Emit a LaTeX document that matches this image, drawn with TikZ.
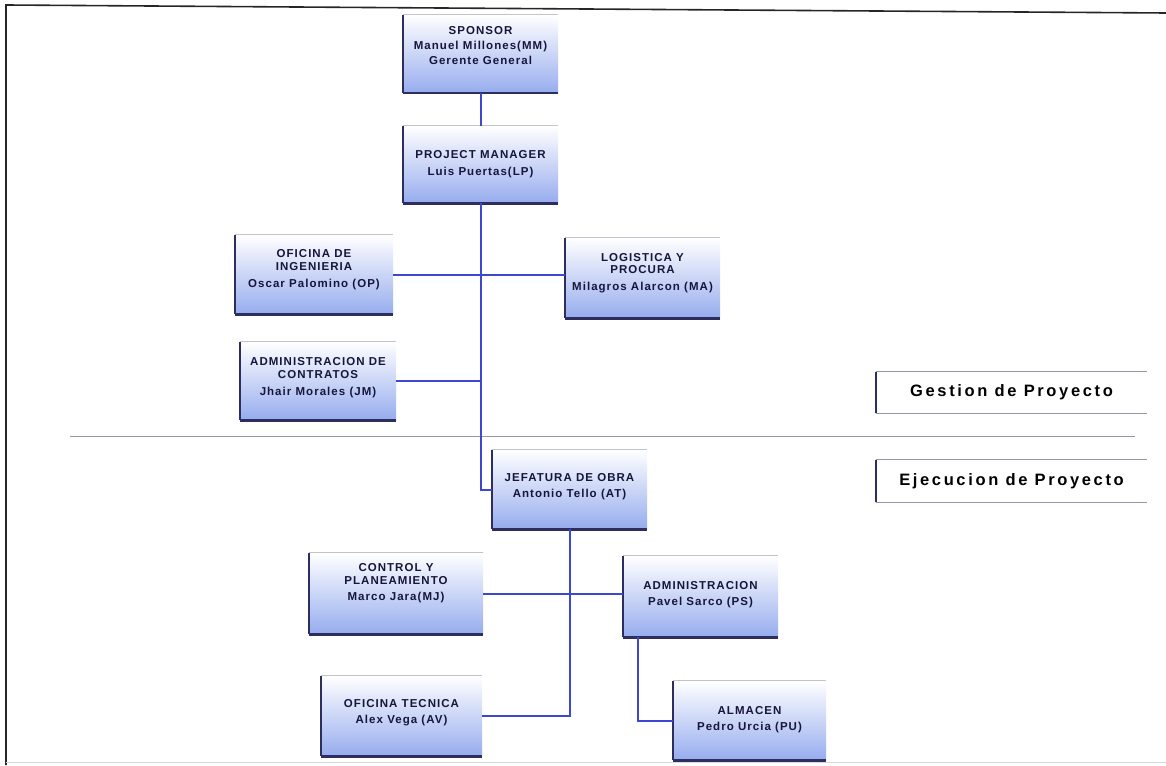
\documentclass[tikz,border=0pt]{standalone}
\usepackage{fontspec}
\setmainfont{Liberation Sans}
\newfontfamily\boxfont[LetterSpace=9]{Liberation Sans}
\newfontfamily\tagfont[LetterSpace=16]{Liberation Sans}
\usetikzlibrary{calc}
\definecolor{navy}{RGB}{22,22,60}
\definecolor{boxblue}{RGB}{150,172,238}
\definecolor{edgecol}{RGB}{45,45,95}
\definecolor{connblue}{RGB}{60,72,205}
\definecolor{lightedge}{RGB}{195,195,205}
\definecolor{divgray}{RGB}{150,150,165}
\begin{document}
\begin{tikzpicture}[x=1pt,y=-1pt,
  orgbox/.style={rectangle, inner sep=0pt, minimum width=155pt, minimum height=78pt,
    top color=white, bottom color=boxblue, align=center,
    font=\boxfont\bfseries\fontsize{11.5}{12.5}\selectfont, text=navy},
  tagbox/.style={rectangle, inner sep=0pt, minimum width=271pt, minimum height=41pt,
    fill=white, font=\tagfont\bfseries\fontsize{16.5}{19}\selectfont, text=black},
  conn/.style={draw=connblue, line width=2pt},
  leftedge/.style={draw=edgecol, line width=1.8pt},
  botedge/.style={draw=edgecol, line width=2.6pt},
  topedge/.style={draw=lightedge, line width=0.9pt}]
\useasboundingbox (0,0) rectangle (1166,765);
% frame
\draw[black!85, line width=1.6pt] (6,765) -- (6,5) -- (1166,13);
\draw[black!15, line width=1pt] (6,762) -- (1166,762);
% divider
\draw[divgray, line width=0.9pt] (70,436) -- (1135,436);
% boxes
\node[orgbox, text depth=17pt] (sp) at (480.5,54) {SPONSOR\\[2.5pt]Manuel Millones(MM)\\[2.5pt]Gerente General};
\node[orgbox, minimum height=77pt] (pm) at (480.5,164.5) {PROJECT MANAGER\\[4.5pt]Luis Puertas(LP)};
\node[orgbox, minimum width=158pt, minimum height=79pt, text depth=12pt] (ing) at (314,274.5) {OFICINA DE\\INGENIERIA\\[4.5pt]Oscar Palomino (OP)};
\node[orgbox, minimum height=80pt, text depth=12pt] (log) at (642.5,278) {LOGISTICA Y\\PROCURA\\[4.5pt]Milagros Alarcon (MA)};
\node[orgbox, minimum width=156pt, text depth=9pt] (ac) at (318,381) {ADMINISTRACION DE\\CONTRATOS\\[4.5pt]Jhair Morales (JM)};
\node[orgbox, minimum height=79pt, text depth=8pt] (jef) at (569.5,489.5) {JEFATURA DE OBRA\\[3.5pt]Antonio Tello (AT)};
\node[orgbox, minimum width=174pt, minimum height=81pt, text depth=23pt] (ctrl) at (396,593.5) {CONTROL Y\\PLANEAMIENTO\\[3.5pt]Marco Jara(MJ)};
\node[orgbox, minimum height=81pt, text depth=6pt] (adm) at (700.5,596.5) {ADMINISTRACION\\[3.5pt]Pavel Sarco (PS)};
\node[orgbox, minimum width=161pt, minimum height=80pt, text depth=9pt] (ofi) at (401.5,716) {OFICINA TECNICA\\[3.5pt]Alex Vega (AV)};
\node[orgbox, minimum width=153pt, minimum height=79pt, text depth=5pt] (alm) at (749.5,720.5) {ALMACEN\\[3.5pt]Pedro Urcia (PU)};
\foreach \n in {sp,pm,ing,log,ac,jef,ctrl,adm,ofi,alm}{
  \draw[topedge] (\n.north west) -- (\n.north east);
  \draw[leftedge] (\n.north west) -- (\n.south west);
  \draw[botedge] (\n.south west) -- (\n.south east);
}
% tag boxes
\node[tagbox] (ges) at (1011.5,392.5) {Gestion de Proyecto};
\node[tagbox, minimum height=42pt] (eje) at (1011.5,481) {Ejecucion de Proyecto};
\foreach \n in {ges,eje}{
  \draw[divgray, line width=0.9pt] (\n.north west) -- (\n.north east);
  \draw[divgray, line width=0.9pt] (\n.south west) -- (\n.south east);
  \draw[edgecol, line width=1.5pt] (\n.north west) -- (\n.south west);
}
% connectors
\draw[conn] (sp.south) -- (pm.north);
\draw[conn] (pm.south) |- (jef.west);
\draw[conn] (ing.east) -- (ing.east -| log.west);
\draw[conn] (ac.east) -- (ac.east -| pm.south);
\draw[conn] (jef.south) |- (ofi.east);
\draw[conn] (ctrl.east) -- (ctrl.east -| adm.west);
\coordinate (admdrop) at ($(adm.south west)!0.1!(adm.south east)$);
\draw[conn] (admdrop) |- (alm.west);
\end{tikzpicture}
\end{document}
